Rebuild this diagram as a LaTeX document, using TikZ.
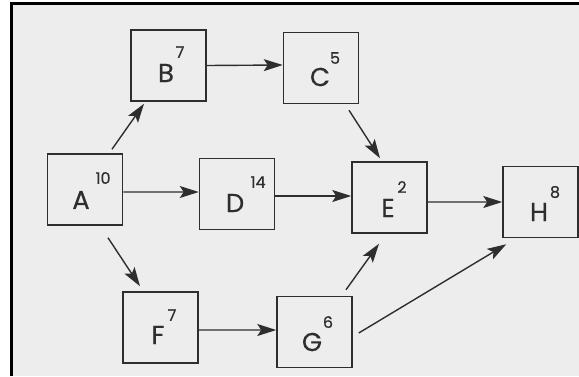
\documentclass[tikz,border=0pt]{standalone}
\usepackage{fontspec}
\setmainfont{Poppins}
\newfontfamily\actfont[FakeBold=0.5]{Poppins}
\usetikzlibrary{arrows.meta,calc}
\definecolor{ink}{HTML}{2E2E2E}
\definecolor{paper}{HTML}{EDEDED}
\begin{document}
\begin{tikzpicture}[x=1bp,y=-1bp,
  actbox/.style={draw=ink,line width=1.5bp,minimum width=75bp,minimum height=71bp,inner sep=0pt},
  letr/.style={text=ink,font=\actfont\fontsize{26}{26}\selectfont,inner sep=0pt},
  supr/.style={text=ink,font=\actfont\fontsize{16}{16}\selectfont,inner sep=0pt},
  arr/.style={draw=ink,line width=1.4bp,-{Stealth[length=19bp,width=12bp,inset=4bp]}}]
\useasboundingbox (0,0) rectangle (579,376);
\fill[paper] (11,3) rectangle (579,376);
\draw[black,line width=3bp,line join=miter] (11,376) -- (11,3) -- (579,3);
% boxes
\node[actbox] (A) at (85,189.5) {};
\node[actbox] (B) at (168.5,65.5) {};
\node[actbox] (C) at (321,68) {};
\node[actbox] (D) at (237,194) {};
\node[actbox] (E) at (389.5,197.5) {};
\node[actbox] (F) at (160.5,327.5) {};
\node[actbox] (G) at (314.5,332) {};
\node[actbox] (H) at (540.5,202) {};
% letters and durations
\node[letr] (Al) at (81,200) {A};   \node[supr] (As) at (103,178) {10};
\node[letr] (Bl) at (166,73) {B};   \node[supr] (Bs) at (180,52) {7};
\node[letr] (Cl) at (320,77) {C};   \node[supr] (Cs) at (335,58) {5};
\node[letr] (Dl) at (235,203) {D};  \node[supr] (Ds) at (258,182) {14};
\node[letr] (El) at (388,208) {E};  \node[supr] (Es) at (402,187) {2};
\node[letr] (Fl) at (158,335) {F};  \node[supr] (Fs) at (172,315) {7};
\node[letr] (Gl) at (312,342) {G};  \node[supr] (Gs) at (328,322) {6};
\node[letr] (Hl) at (539,212) {H};  \node[supr] (Hs) at (555,192) {8};
% connectors
\draw[arr] ([shift={(27,-4)}]A.north) -- ([shift={(-24.5,2)}]B.south);
\draw[arr] ([shift={(0,2.5)}]A.east) -- ([shift={(0,-2)}]D.west);
\draw[arr] ([shift={(23,12)}]A.south) -- ([shift={(-20.5,-5)}]F.north);
\draw[arr] (B.east) -- ([shift={(0,-3)}]C.west);
\draw[arr] ([shift={(28,6)}]C.south) -- ([shift={(-9.5,-3)}]E.north);
\draw[arr] ([shift={(0,2)}]D.east) -- ([shift={(0,-1.5)}]E.west);
\draw[arr] ([shift={(0,4.5)}]E.east) -- (H.west);
\draw[arr] ([shift={(0,2.5)}]F.east) -- ([shift={(0,-2)}]G.west);
\draw[arr] ([shift={(31.5,-6)}]G.north) -- ([shift={(-10.5,10)}]E.south);
\draw[arr] ([shift={(6,1)}]G.east) -- ([shift={(4,6)}]H.south west);
\end{tikzpicture}
\end{document}
